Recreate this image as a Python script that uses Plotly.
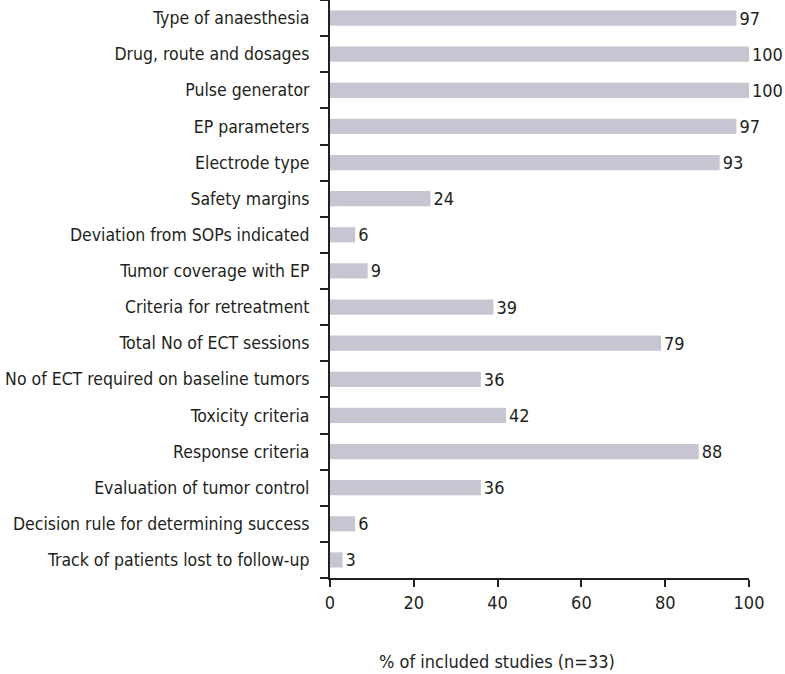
import plotly.graph_objects as go

categories = [
    "Type of anaesthesia",
    "Drug, route and dosages",
    "Pulse generator",
    "EP parameters",
    "Electrode type",
    "Safety margins",
    "Deviation from SOPs indicated",
    "Tumor coverage with EP",
    "Criteria for retreatment",
    "Total No of ECT sessions",
    "No of ECT required on baseline tumors",
    "Toxicity criteria",
    "Response criteria",
    "Evaluation of tumor control",
    "Decision rule for determining success",
    "Track of patients lost to follow-up",
]
values = [97, 100, 100, 97, 93, 24, 6, 9, 39, 79, 36, 42, 88, 36, 6, 3]
x_ticks = [0, 20, 40, 60, 80, 100]
x_title = "% of included studies (n=33)"

FONT = "Liberation Sans Narrow, DejaVu Sans Condensed, Arial Narrow, sans-serif"
TXT = "#231f20"
FS = 17.5

fig = go.Figure(go.Bar(
    y=categories,
    x=values,
    orientation="h",
    marker=dict(color="#c6c6d3", line=dict(width=0)),
    text=[str(v) for v in values],
    textposition="outside",
    constraintext="none",
    textfont=dict(family=FONT, size=18, color=TXT),
    cliponaxis=False,
))

fig.update_layout(
    width=785, height=674,
    margin=dict(l=330, r=36, t=0, b=96, autoexpand=False),
    plot_bgcolor="white", paper_bgcolor="white",
    bargap=0.58,
    showlegend=False,
    font=dict(family=FONT, size=FS, color=TXT),
    xaxis=dict(
        range=[0, 100], tickvals=x_ticks, ticks="outside", ticklen=7, tickwidth=2,
        tickcolor=TXT, showline=True, linecolor=TXT, linewidth=2, showgrid=False,
        zeroline=False, tickfont=dict(size=18, color=TXT), automargin=False,
    ),
    yaxis=dict(
        categoryorder="array", categoryarray=categories[::-1],
        autorange=False, range=[-0.5, len(categories) - 0.5],
        ticks="outside", tickson="boundaries", ticklen=8, tickwidth=2,
        tickcolor=TXT, showline=True, linecolor=TXT, linewidth=2, showgrid=False,
        ticklabelstandoff=15, tickfont=dict(size=FS, color=TXT), automargin=False,
    ),
    annotations=[dict(
        text=x_title, xref="paper", yref="paper", x=(497 - 330) / 419, y=0,
        yshift=-83, xanchor="center", yanchor="middle", showarrow=False,
        font=dict(family=FONT, size=18, color=TXT),
    )],
)

fig.write_html("out.html", config={"displayModeBar": False},
               post_script="document.body.style.margin='0';")
